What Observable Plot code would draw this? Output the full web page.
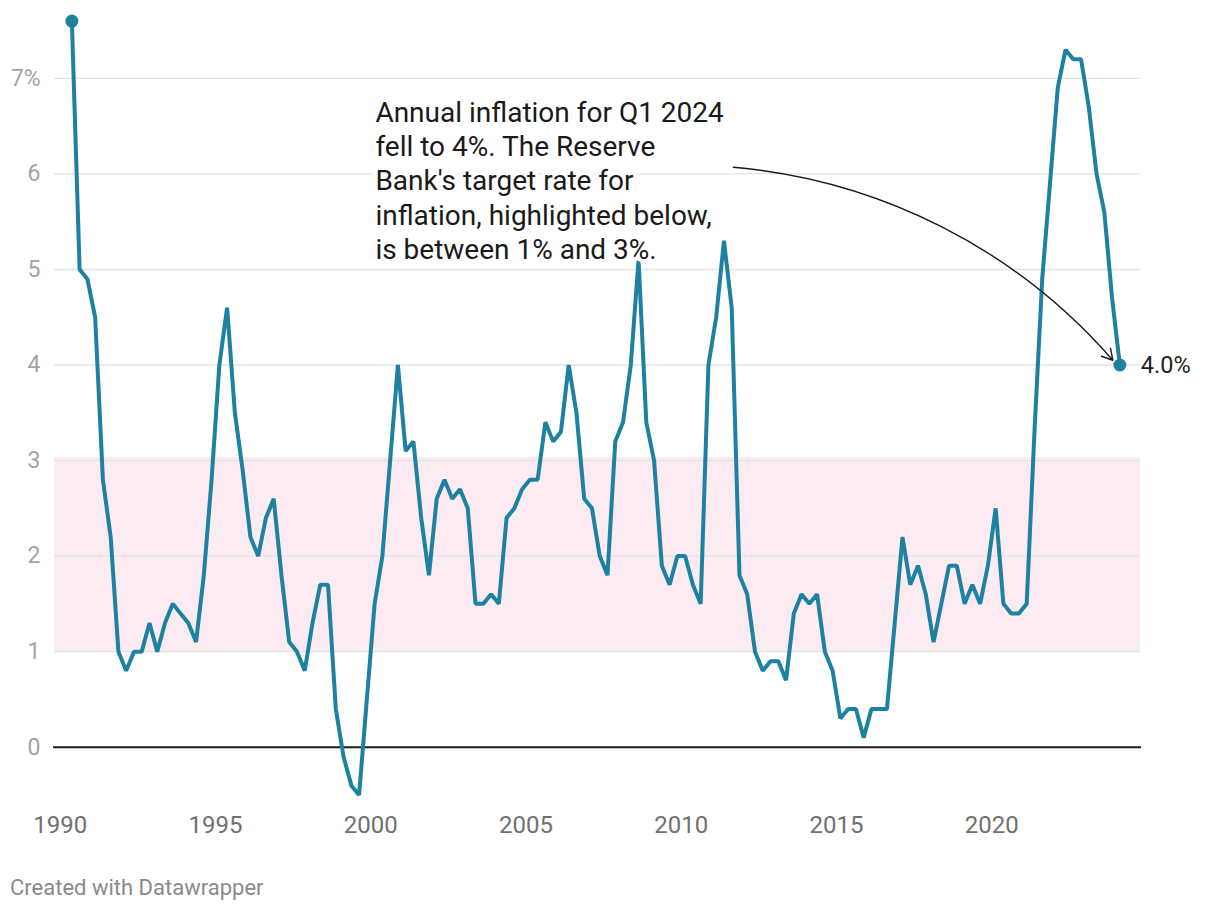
<!DOCTYPE html>
<html><head><meta charset="utf-8">
<script src="https://cdn.jsdelivr.net/npm/d3@7"></script>
<script src="https://cdn.jsdelivr.net/npm/@observablehq/plot@0.6"></script>
<style>
body{margin:0;background:#fff;font-family:Roboto,sans-serif;}
#chart svg{display:block;}
#footer{margin:14px 0 0 10px;font-size:22px;color:#8a8a8a;line-height:28px;}
</style></head><body>
<div id="chart"></div>
<div id="footer">Created with Datawrapper</div>
<script>
// Annual CPI inflation (%), quarterly, starting 1990 Q2 through 2024 Q1
const startYear = 1990;
const startQuarter = 2;
const inflation = [
  7.6, 5.0, 4.9,
  4.5, 2.8, 2.2, 1.0,
  0.8, 1.0, 1.0, 1.3,
  1.0, 1.3, 1.5, 1.4,
  1.3, 1.1, 1.8, 2.8,
  4.0, 4.6, 3.5, 2.9,
  2.2, 2.0, 2.4, 2.6,
  1.8, 1.1, 1.0, 0.8,
  1.3, 1.7, 1.7, 0.4,
  -0.1, -0.4, -0.5, 0.5,
  1.5, 2.0, 3.0, 4.0,
  3.1, 3.2, 2.4, 1.8,
  2.6, 2.8, 2.6, 2.7,
  2.5, 1.5, 1.5, 1.6,
  1.5, 2.4, 2.5, 2.7,
  2.8, 2.8, 3.4, 3.2,
  3.3, 4.0, 3.5, 2.6,
  2.5, 2.0, 1.8, 3.2,
  3.4, 4.0, 5.1, 3.4,
  3.0, 1.9, 1.7, 2.0,
  2.0, 1.7, 1.5, 4.0,
  4.5, 5.3, 4.6, 1.8,
  1.6, 1.0, 0.8, 0.9,
  0.9, 0.7, 1.4, 1.6,
  1.5, 1.6, 1.0, 0.8,
  0.3, 0.4, 0.4, 0.1,
  0.4, 0.4, 0.4, 1.3,
  2.2, 1.7, 1.9, 1.6,
  1.1, 1.5, 1.9, 1.9,
  1.5, 1.7, 1.5, 1.9,
  2.5, 1.5, 1.4, 1.4,
  1.5, 3.3, 4.9, 5.9,
  6.9, 7.3, 7.2, 7.2,
  6.7, 6.0, 5.6, 4.7,
  4.0
];
const xTicks = [1990, 1995, 2000, 2005, 2010, 2015, 2020];
const yTicks = [0, 1, 2, 3, 4, 5, 6, 7];
const targetBand = [{low: 1, high: 3}];
const annotationText = "Annual inflation for Q1 2024\nfell to 4%. The Reserve\nBank's target rate for\ninflation, highlighted below,\nis between 1% and 3%.";
const annotation = [{x: 2000.15, y: 6.80, text: annotationText}];
const arrowPath = [{x1: 2011.68, y1: 6.07, x2: 2023.9, y2: 4.05}];
const footer = "Created with Datawrapper";

const xDomain = [1989.816, 2024.79];
const yDomain = [-0.6, 7.7];

const data = inflation.map((v, i) => ({
  t: startYear + (startQuarter - 1 + i) * 0.25 + 0.125,
  v
}));
const ends = [data[0], data[data.length - 1]];
const last = [data[data.length - 1]];

const chart = Plot.plot({
  width: 1220,
  height: 860,
  marginLeft: 54,
  marginRight: 80,
  marginTop: 11,
  marginBottom: 56,
  style: {fontFamily: "Roboto, sans-serif", background: "white", overflow: "visible"},
  x: {domain: xDomain, axis: null},
  y: {domain: yDomain, axis: null},
  marks: [
    Plot.rect(targetBand, {x1: () => xDomain[0], x2: () => xDomain[1], y1: d => d.low - 0.01, y2: d => d.high + 0.035, fill: "#fcecf1"}),
    Plot.ruleY(yTicks.filter(d => d !== 0), {stroke: "#e3e3e3", strokeWidth: 1.4}),
    Plot.axisY(yTicks, {
      tickSize: 0, tickPadding: 14, fontSize: 23, color: "#a3a3a3",
      tickFormat: d => d === 7 ? "7%" : String(d), label: null
    }),
    Plot.axisX(xTicks, {
      tickSize: 0, tickPadding: 11, fontSize: 24, color: "#707070",
      tickFormat: d => String(d), label: null
    }),
    Plot.ruleY([0], {stroke: "#1a1a1a", strokeWidth: 2, insetLeft: -1, insetRight: -1}),
    Plot.line(data, {x: "t", y: "v", stroke: "#1d81a2", strokeWidth: 4, strokeLinejoin: "miter", strokeLinecap: "butt"}),
    Plot.dot(ends, {x: "t", y: "v", r: 6.5, fill: "#1d81a2"}),
    Plot.text(last, {x: "t", y: "v", text: d => d.v.toFixed(1) + "%", dx: 21, textAnchor: "start", fontSize: 23.5, fill: "#222"}),
    Plot.text(annotation, {x: "x", y: "y", text: "text", textAnchor: "start", lineAnchor: "top", lineHeight: 1.225, fontSize: 28, fill: "#1a1a1a", stroke: "white", strokeWidth: 8}),
    Plot.arrow(arrowPath, {x1: "x1", y1: "y1", x2: "x2", y2: "y2", bend: 22, stroke: "#1a1a1a", strokeWidth: 1.4, headLength: 13})
  ]
});
document.getElementById("chart").append(chart);
document.getElementById("footer").textContent = footer;
</script>
</body></html>
